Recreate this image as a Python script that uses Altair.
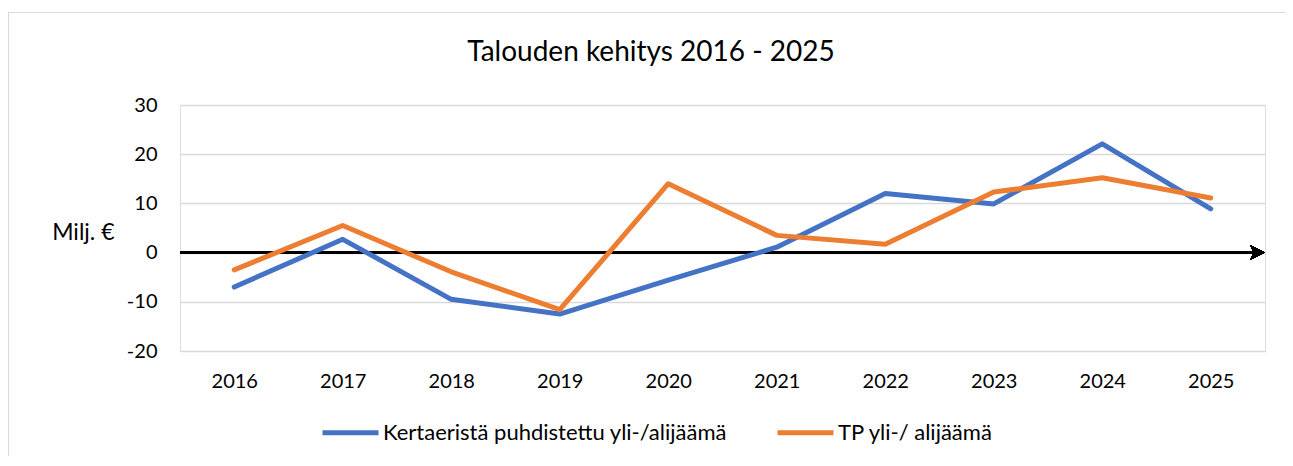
import altair as alt
import pandas as pd

chart_title = "Talouden kehitys 2016 - 2025"
years = ["2016", "2017", "2018", "2019", "2020", "2021", "2022", "2023", "2024", "2025"]
series_names = ["Kertaeristä puhdistettu yli-/alijäämä", "TP yli-/ alijäämä"]
blue_values = [-7.0, 2.7, -9.5, -12.5, -5.6, 1.1, 12.0, 9.9, 22.1, 8.9]
orange_values = [-3.5, 5.5, -3.9, -11.6, 14.0, 3.5, 1.7, 12.3, 15.2, 11.1]
y_ticks = [-20, -10, 0, 10, 20, 30]
colors = ["#4472C4", "#ED7D31"]

FONT = "Lato"
W, H = 1085, 246

rows = []
for name, vals in zip(series_names, [blue_values, orange_values]):
    for yr, v in zip(years, vals):
        rows.append({"Vuosi": yr, "Arvo": v, "Sarja": name})
df = pd.DataFrame(rows)

x_enc = alt.X("Vuosi:O", sort=years, scale=alt.Scale(type="point", padding=0.5),
              axis=alt.Axis(title=None, labelAngle=0, domain=False, ticks=False, tickSize=0,
                            labelFont=FONT, labelFontSize=20, labelColor="#000000",
                            labelPadding=20, grid=False))
y_scale = alt.Scale(domain=[-20, 30], nice=False, zero=False)
y_enc = alt.Y("Arvo:Q", scale=y_scale,
              axis=alt.Axis(values=y_ticks, labelExpr="'' + datum.value",
                            title="Milj. €", titleAngle=0, titleAlign="right",
                            titleBaseline="middle", titleX=-66, titleY=127,
                            titleFont=FONT, titleFontSize=23, titleFontWeight="normal",
                            titleColor="#000000",
                            domain=False, ticks=False, tickSize=0, labelPadding=23,
                            labelFont=FONT, labelFontSize=20, labelColor="#000000",
                            grid=True, gridColor="#D9D9D9", gridWidth=1.5))

lines = alt.Chart(df).mark_line(strokeWidth=5, strokeCap="round", strokeJoin="round").encode(
    x=x_enc,
    y=y_enc,
    color=alt.Color("Sarja:N", sort=series_names,
                    scale=alt.Scale(domain=series_names, range=colors),
                    legend=alt.Legend(title=None, orient="none", legendX=140, legendY=297,
                                      direction="horizontal", symbolType="stroke",
                                      symbolSize=3136, symbolStrokeWidth=5,
                                      labelFont=FONT, labelFontSize=22, labelColor="#000000",
                                      labelLimit=600, labelOffset=2, columnPadding=40,
                                      padding=0)),
)

zero_rule = alt.Chart(df).mark_rule(color="#000000", strokeWidth=1.8).encode(
    y=alt.datum(0), x=alt.value(0), x2=alt.value(W - 12)
)

arrow = alt.Chart(df).mark_point(
    shape="M-1,-1L1,0L-1,1L-0.5,0Z", filled=True, color="#000000", opacity=1
).encode(y=alt.datum(0), x=alt.value(W - 7.5), size=alt.value(225))

frame = alt.Chart(df).mark_rect(fill=None, stroke="#D9D9D9", strokeWidth=1, clip=False).encode(
    x=alt.value(-171.5), x2=alt.value(W + 200), y=alt.value(-92.5), y2=alt.value(H + 300)
)

title_text = alt.Chart(pd.DataFrame({"t": [chart_title]})).mark_text(
    font=FONT, fontSize=28, color="#000000", align="center", baseline="alphabetic"
).encode(text="t:N", x=alt.value(471), y=alt.value(-44))

chart = alt.layer(frame, zero_rule, lines, arrow, title_text).properties(
    width=W, height=H,
    autosize=alt.AutoSizeParams(type="none"),
    padding={"left": 172, "top": 97, "right": 20, "bottom": 105},
).configure_view(stroke=None).configure(background="#FFFFFF")

chart.save("out.html", embed_options={"renderer": "svg", "actions": False})
